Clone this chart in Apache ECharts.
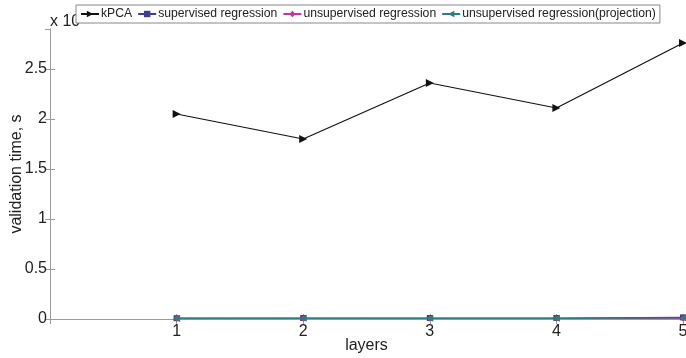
<!DOCTYPE html>
<html><head><meta charset="utf-8">
<script src="https://cdn.jsdelivr.net/npm/echarts@6/dist/echarts.min.js"></script>
<style>html,body{margin:0;padding:0;background:#fff}#c{width:686px;height:358px}</style>
</head><body><div id="c"></div>
<script>
var layers = [1, 2, 3, 4, 5];
var kPCA = [2.05, 1.80, 2.36, 2.11, 2.76];
var supervised = [0.008, 0.010, 0.010, 0.010, 0.016];
var unsupervised = [0.004, 0.005, 0.005, 0.005, 0.006];
var projection = [0.006, 0.007, 0.007, 0.007, 0.010];
var yTicks = [0, 0.5, 1, 1.5, 2, 2.5];

function pts(v){ return layers.map(function(x,i){ return [x, v[i]]; }); }
var font = 'Liberation Sans, Arial, sans-serif';
var axisCol = '#9a9a9a';
var chart = echarts.init(document.getElementById('c'));
function mk(name, data, color, symbol, rot, size){
  return {name:name, type:'line', data:pts(data), symbol:symbol, symbolRotate:rot, symbolSize:size,
    showAllSymbol:true, lineStyle:{color:color, width:1.2}, itemStyle:{color:color}, color:color, z:3};
}
chart.setOption({
  animation:false,
  textStyle:{fontFamily:font},
  grid:{left:50, right:3, top:29, bottom:39, containLabel:false, outerBoundsMode:'none'},
  graphic:[{type:'text', left:50, top:14, z:0, style:{text:'x 10', font:'16px '+font, fill:'#222'}}],
  legend:{left:76, top:5, z:10, backgroundColor:'#fff', borderColor:'#888', borderWidth:1,
    padding:[3,4,3,4], itemGap:5, itemWidth:18, itemHeight:8,
    textStyle:{fontSize:12.2, color:'#222', fontFamily:font, padding:[0,0,0,-3]},
    data:['kPCA','supervised regression','unsupervised regression','unsupervised regression(projection)']},
  xAxis:[{type:'value', min:0, max:5, interval:1, name:'layers', nameLocation:'middle', nameGap:19, nameMoveOverlap:false,
      nameTextStyle:{fontSize:16, color:'#222', fontFamily:font},
      axisLine:{lineStyle:{color:axisCol}}, axisTick:{inside:true, length:5, lineStyle:{color:axisCol}},
      axisLabel:{fontSize:16, color:'#222', margin:5, showMinLabel:false, fontFamily:font}, splitLine:{show:false}},
    {type:'value', position:'top', min:0, max:5, interval:1,
      axisLine:{lineStyle:{color:axisCol}}, axisTick:{inside:true, length:5, lineStyle:{color:axisCol}},
      axisLabel:{show:false}, splitLine:{show:false}}],
  yAxis:[{type:'value', min:0, max:2.9, interval:0.5, name:'validation time, s', nameLocation:'middle', nameGap:25, nameMoveOverlap:false,
      nameTextStyle:{fontSize:16, color:'#222', fontFamily:font},
      axisLine:{show:true, lineStyle:{color:axisCol}}, axisTick:{show:true, inside:true, length:5, lineStyle:{color:axisCol}},
      axisLabel:{fontSize:16, color:'#222', margin:3, showMaxLabel:false, fontFamily:font,
        formatter:function(v){ return yTicks.indexOf(v)>=0 ? String(v) : ''; }}, splitLine:{show:false}},
    {type:'value', position:'right', min:0, max:2.9, interval:0.5,
      axisLine:{show:true, lineStyle:{color:axisCol}}, axisTick:{show:true, inside:true, length:5, lineStyle:{color:axisCol}},
      axisLabel:{show:false}, splitLine:{show:false}}],
  series:[
    mk('kPCA', kPCA, '#111', 'triangle', -90, 8),
    mk('supervised regression', supervised, '#3d3d99', 'rect', 0, 6),
    mk('unsupervised regression', unsupervised, '#cc3399', 'diamond', 0, 6),
    mk('unsupervised regression(projection)', projection, '#2a7f7f', 'triangle', 90, 7)
  ]
});
</script></body></html>
